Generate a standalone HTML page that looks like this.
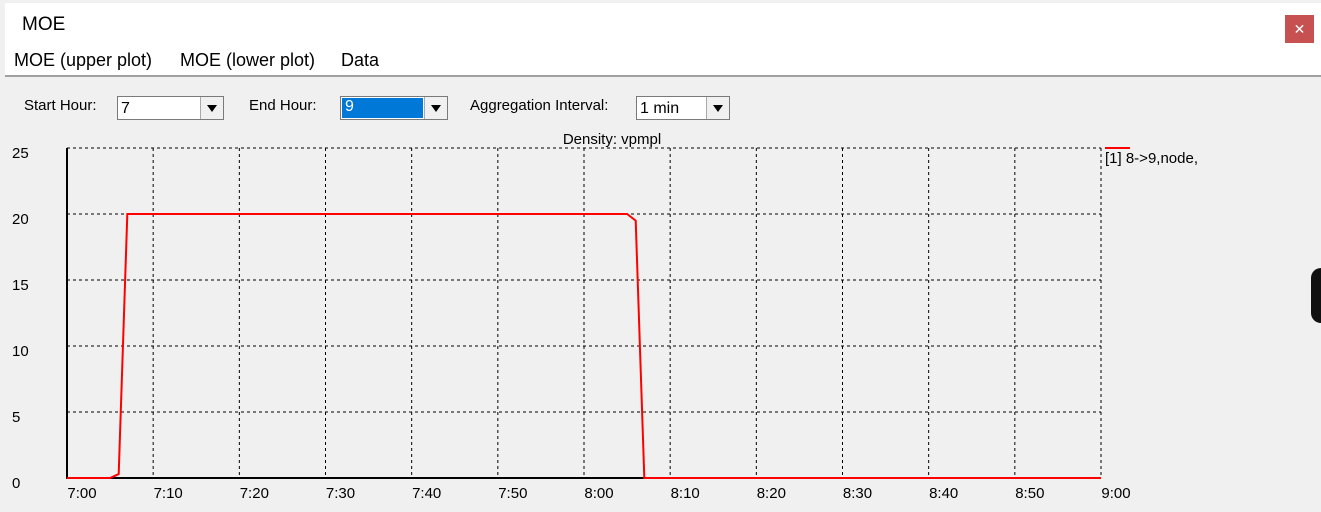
<!DOCTYPE html>
<html><head><meta charset="utf-8"><style>
body{margin:0;width:1321px;height:512px;overflow:hidden;background:#f0f0f0;font-family:"Liberation Sans",sans-serif;position:relative}
.abs{position:absolute}
.sel{position:absolute;height:24px;border:1px solid #7a7a7a;background:#fff;font-size:16px;box-sizing:border-box}
.sel span{position:absolute;left:3px;top:3px}
.arr{position:absolute;right:0;top:0;width:22px;height:22px;border-left:1px solid #aaa;background:#f0f0f0}
.arr:after{content:"";position:absolute;left:6px;top:8px;border-left:5px solid transparent;border-right:5px solid transparent;border-top:7px solid #000}
.lbl{position:absolute;font-size:15px;top:97px}
</style></head><body>
<div class="abs" style="left:5px;top:3px;width:1316px;height:72px;background:#fff"></div>
<div class="abs" style="left:22px;top:14px;font-size:19px">MOE</div>
<div class="abs" style="left:1285px;top:15px;width:29px;height:28px;background:#c75050;color:#fff;text-align:center;line-height:28px;font-size:14px">✕</div>
<div class="abs" style="left:14px;top:50px;font-size:18px">MOE (upper plot)</div>
<div class="abs" style="left:180px;top:50px;font-size:18px">MOE (lower plot)</div>
<div class="abs" style="left:341px;top:50px;font-size:18px">Data</div>
<div class="abs" style="left:5px;top:75px;width:1316px;height:2px;background:#a0a0a0"></div>
<div class="lbl" style="left:24px">Start Hour:</div>
<div class="sel" style="left:117px;top:96px;width:107px"><span>7</span><div class="arr"></div></div>
<div class="lbl" style="left:249px">End Hour:</div>
<div class="sel" style="left:340px;top:96px;width:108px"><span style="left:1px;top:1px;width:78px;height:20px;background:#0078d7;color:#fff;padding-left:3px">9</span><div class="arr"></div></div>
<div class="lbl" style="left:470px">Aggregation Interval:</div>
<div class="sel" style="left:636px;top:96px;width:94px"><span>1 min</span><div class="arr"></div></div>
<div class="abs" style="left:1311px;top:268px;width:14px;height:55px;background:#111;border-radius:10px 0 0 10px"></div>
<svg class="abs" style="left:0;top:0" width="1321" height="512" id="chart"></svg>
<script>
const yTicks=[0,5,10,15,20,25];
const xTickLabels=["7:00","7:10","7:20","7:30","7:40","7:50","8:00","8:10","8:20","8:30","8:40","8:50","9:00"];
const xTickMinutes=[0,10,20,30,40,50,60,70,80,90,100,110,120];
const seriesMinutes=[0,5,6,7,65,66,67,120];
const seriesValues=[0,0,0.3,20,20,19.5,0,0];
const seriesName="[1] 8->9,node,";
const X0=67,X1=1101,Y0=478,Y1=148;
const xs=m=>X0+(X1-X0)*m/120, ys=v=>Y0-(Y0-Y1)*v/25;
const svg=document.getElementById('chart'),NS="http://www.w3.org/2000/svg";
function mk(t,a,txt){const e=document.createElementNS(NS,t);for(const k in a)e.setAttribute(k,a[k]);if(txt!=null)e.textContent=txt;svg.appendChild(e);return e;}
yTicks.forEach(v=>{
 if(v>0){const g=mk('line',{x1:X0,x2:X1,y1:ys(v),y2:ys(v),stroke:'#000','stroke-dasharray':'3,3'});
 
 }
 const t=mk('text',{x:12,y:ys(v)+10,'font-size':15,'font-family':'Liberation Sans'},v);
 
 
});
xTickMinutes.forEach((m,i)=>{
 if(m>0){const g=mk('line',{x1:xs(m),x2:xs(m),y1:Y1,y2:Y0,stroke:'#000','stroke-dasharray':'3,3'});
 
 }
 const t=mk('text',{x:xs(m)+15,y:498,'font-size':15,'text-anchor':'middle','font-family':'Liberation Sans'},xTickLabels[i]);
 
 
});
const ax=mk('polyline',{points:`${X0},${Y1} ${X0},${Y0} ${X1},${Y0}`,fill:'none',stroke:'#000','stroke-width':2});


const ln=mk('polyline',{points:seriesMinutes.map((m,i)=>xs(m)+','+ys(seriesValues[i])).join(' '),fill:'none',stroke:'#f00','stroke-width':2});


const tt=mk('text',{x:612,y:144,'font-size':15,'text-anchor':'middle','font-family':'Liberation Sans'},'Density: vpmpl');


const ls=mk('line',{x1:1105,x2:1130,y1:148,y2:148,stroke:'#f00','stroke-width':2});


const lt=mk('text',{x:1105,y:163,'font-size':15,'font-family':'Liberation Sans'},seriesName);


</script>
</body></html>
